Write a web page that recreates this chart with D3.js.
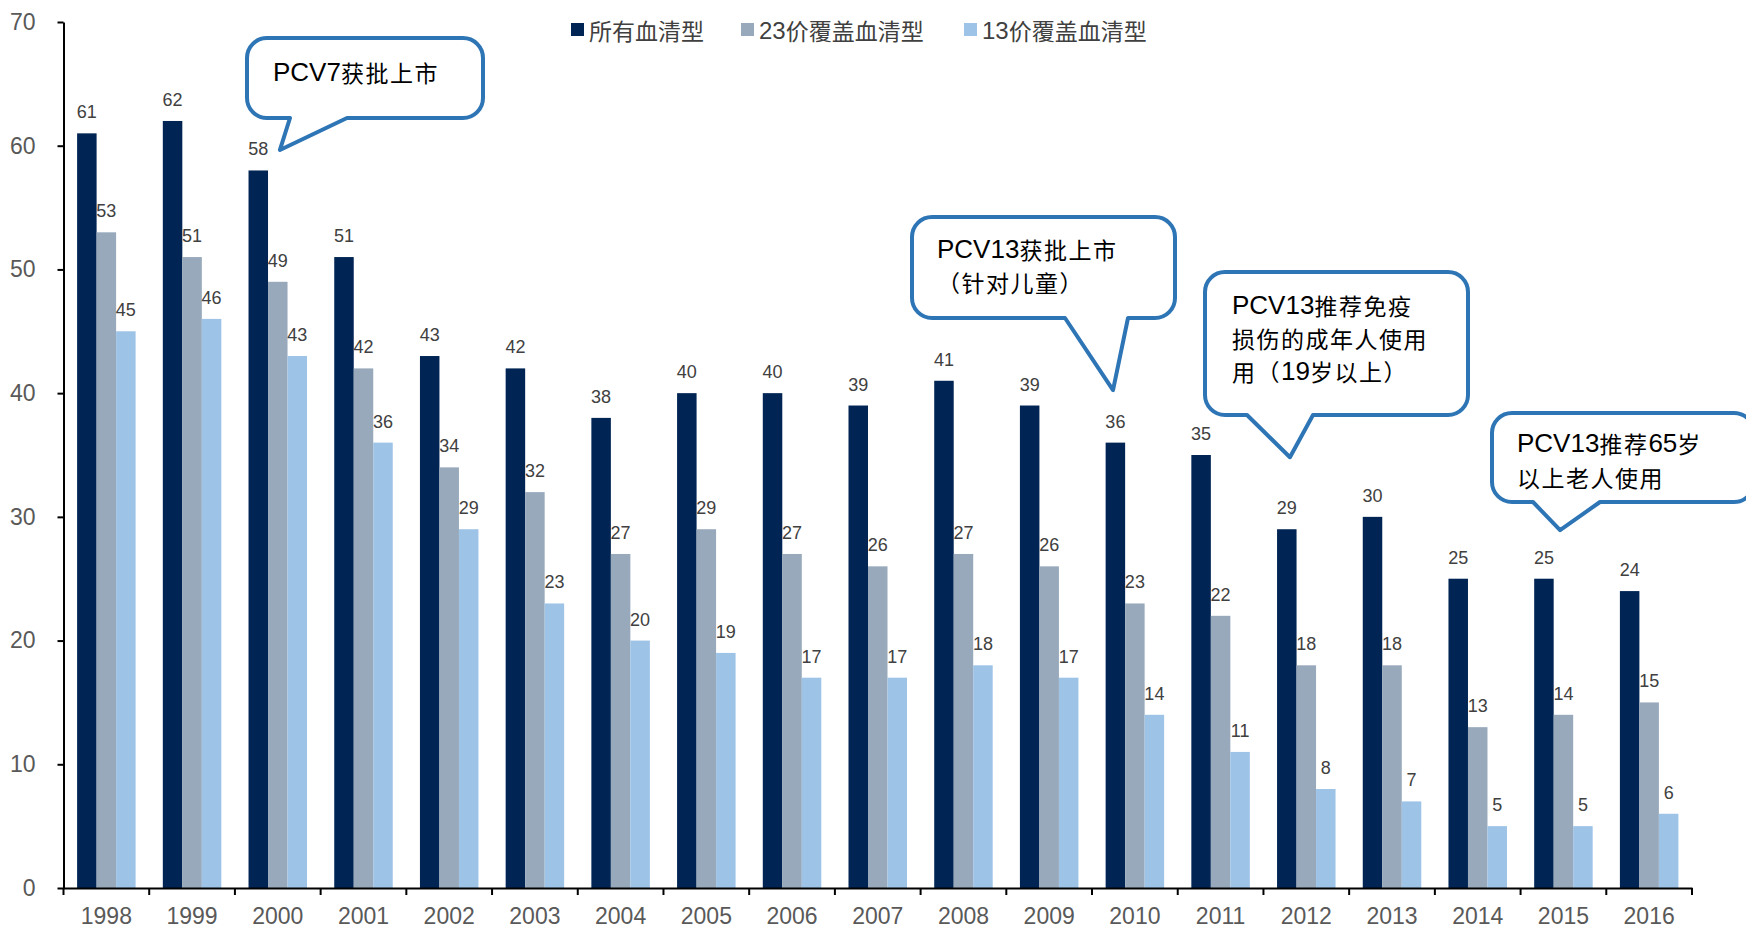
<!DOCTYPE html>
<html>
<head>
<meta charset="utf-8">
<script src="https://cdn.jsdelivr.net/npm/d3@7/dist/d3.min.js"></script>
<style>
  html, body { margin: 0; padding: 0; background: #fff; }
  svg { display: block; }
  text { font-family: "Liberation Sans", Arial, "Noto Sans CJK SC", sans-serif; }
</style>
</head>
<body>
<svg id="chart" width="1746" height="928"></svg>
<script>
// Years on the category axis
const years = ["1998","1999","2000","2001","2002","2003","2004","2005","2006","2007",
               "2008","2009","2010","2011","2012","2013","2014","2015","2016"];

// Series values (per 100,000)
const allSerotypes = [61,62,58,51,43,42,38,40,40,39,41,39,36,35,29,30,25,25,24];
const ppsv23Types  = [53,51,49,42,34,32,27,29,27,26,27,26,23,22,18,18,13,14,15];
const pcv13Types   = [45,46,43,36,29,23,20,19,17,17,18,17,14,11,8,7,5,5,6];

const seriesNames  = ["所有血清型", "23价覆盖血清型", "13价覆盖血清型"];
const seriesColors = ["#002554", "#97A9BB", "#9DC3E6"];
const seriesValues = [allSerotypes, ppsv23Types, pcv13Types];

const yTicks = [0,10,20,30,40,50,60,70];

// Callout notes: text lines, box, tail base on the bottom edge, and the tail tip
// (tip = year, value, pixel offset x, pixel offset y)
const notes = [
  { lines: ["PCV7获批上市"], box: [247, 38, 483, 118], base: [290, 347], tip: ["2000", 58, 45, -20.5], textX: 273, textY: [72] },
  { lines: ["PCV13获批上市", "（针对儿童）"], box: [912, 217, 1175, 318], base: [1065, 1128], tip: ["2010", 36, 21, -52.5], textX: 937, textY: [249, 282] },
  { lines: ["PCV13推荐免疫", "损伤的成年人使用", "用（19岁以上）"], box: [1205, 272, 1468, 415], base: [1247, 1313], tip: ["2012", 29, 26.5, -72], textX: 1232, textY: [305, 338, 371] },
  { lines: ["PCV13推荐65岁", "以上老人使用"], box: [1492, 413, 1754, 502], base: [1533, 1600], tip: ["2015", 25, 39.5, -48.5], textX: 1517, textY: [443, 477] }
];

const svg = d3.select("#chart");
const plotLeft = 63.5, plotRight = 1692, plotTop = 22, plotBottom = 888;

const x = d3.scaleBand().domain(years).range([plotLeft, plotRight]).paddingInner(0).paddingOuter(0);
const y = d3.scaleLinear().domain([0, 70]).range([plotBottom, plotTop]);

const barW = 19.5;
const xs = d3.scaleBand().domain(d3.range(3)).range([0, barW * 3]);
const groupOffset = (x.bandwidth() - barW * 3) / 2;

// Split mixed text into CJK and Latin runs, each with its own size and tracking
const cjkRe = /[\u3000-\u9fff\uff00-\uffef]/;
function addRuns(textSel, str, latinSize, cjkSize, cjkSpacing) {
  const runs = str.match(/[\u3000-\u9fff\uff00-\uffef]+|[^\u3000-\u9fff\uff00-\uffef]+/g) || [];
  runs.forEach(r => {
    const isCJK = cjkRe.test(r);
    textSel.append("tspan")
      .attr("font-size", isCJK ? cjkSize : latinSize)
      .attr("letter-spacing", isCJK ? cjkSpacing : 0)
      .attr("font-family", isCJK ? "'Noto Sans CJK SC', sans-serif" : "'Liberation Sans', Arial, sans-serif")
      .text(r);
  });
}

// Bars
const groups = svg.append("g").selectAll("g.year")
  .data(years).join("g").attr("class", "year")
  .attr("transform", d => `translate(${x(d) + groupOffset},0)`);

seriesValues.forEach((vals, s) => {
  groups.append("rect")
    .attr("x", xs(s))
    .attr("width", barW)
    .attr("y", (d, i) => y(vals[i]))
    .attr("height", (d, i) => y(0) - y(vals[i]))
    .attr("fill", seriesColors[s]);
  groups.append("text")
    .attr("x", xs(s) + barW / 2)
    .attr("y", (d, i) => y(vals[i]) - 15)
    .attr("text-anchor", "middle")
    .attr("font-size", 18)
    .attr("fill", "#404040")
    .text((d, i) => vals[i]);
});

// Y axis
const yAxis = svg.append("g")
  .attr("transform", `translate(${plotLeft},0)`)
  .call(d3.axisLeft(y).tickValues(yTicks).tickSize(6).tickPadding(22).tickSizeOuter(0));
yAxis.select(".domain").attr("stroke", "#000").attr("stroke-width", 2);
yAxis.selectAll(".tick line").attr("stroke", "#000").attr("stroke-width", 2);
yAxis.selectAll(".tick text").attr("font-size", 23).attr("fill", "#595959")
  .attr("font-family", "'Liberation Sans', Arial, sans-serif");

// X axis: labels centred in each band, ticks on band boundaries
const xAxis = svg.append("g")
  .attr("transform", `translate(0,${plotBottom})`)
  .call(d3.axisBottom(x).tickSize(0).tickPadding(20).tickSizeOuter(0));
xAxis.select(".domain").attr("stroke", "#000").attr("stroke-width", 2);
xAxis.selectAll(".tick text").attr("font-size", 23).attr("fill", "#595959")
  .attr("font-family", "'Liberation Sans', Arial, sans-serif");
xAxis.selectAll("line.boundary")
  .data(years.concat(["end"])).join("line").attr("class", "boundary")
  .attr("x1", (d, i) => plotLeft + i * x.step())
  .attr("x2", (d, i) => plotLeft + i * x.step())
  .attr("y1", 0).attr("y2", 7)
  .attr("stroke", "#000").attr("stroke-width", 2);

// Legend
const legendX = [571, 741, 964];
const legend = svg.append("g");
seriesNames.forEach((name, i) => {
  legend.append("rect")
    .attr("x", legendX[i]).attr("y", 23).attr("width", 13).attr("height", 13)
    .attr("fill", seriesColors[i]);
  const t = legend.append("text")
    .attr("x", legendX[i] + 18).attr("y", 30)
    .attr("dominant-baseline", "central")
    .attr("fill", "#404040");
  addRuns(t, name, 24, 23, 0);
});

// Callouts
function calloutPath(n) {
  const [x0, y0, x1, y1] = n.box, r = 20;
  const [b0, b1] = n.base;
  const tx = x(n.tip[0]) + n.tip[2], ty = y(n.tip[1]) + n.tip[3];
  const p = d3.path();
  p.moveTo(x0 + r, y0);
  p.lineTo(x1 - r, y0);
  p.arcTo(x1, y0, x1, y0 + r, r);
  p.lineTo(x1, y1 - r);
  p.arcTo(x1, y1, x1 - r, y1, r);
  p.lineTo(b1, y1);
  p.lineTo(tx, ty);
  p.lineTo(b0, y1);
  p.lineTo(x0 + r, y1);
  p.arcTo(x0, y1, x0, y1 - r, r);
  p.lineTo(x0, y0 + r);
  p.arcTo(x0, y0, x0 + r, y0, r);
  p.closePath();
  return p.toString();
}

const callouts = svg.append("g");
notes.forEach(n => {
  callouts.append("path")
    .attr("d", calloutPath(n))
    .attr("fill", "#fff")
    .attr("stroke", "#2E75B6")
    .attr("stroke-width", 4)
    .attr("stroke-linejoin", "round");
  n.lines.forEach((line, i) => {
    const t = callouts.append("text")
      .attr("x", n.textX).attr("y", n.textY[i])
      .attr("dominant-baseline", "central")
      .attr("fill", "#000");
    addRuns(t, line, 26, 23, 1.5);
  });
});
</script>
</body>
</html>
